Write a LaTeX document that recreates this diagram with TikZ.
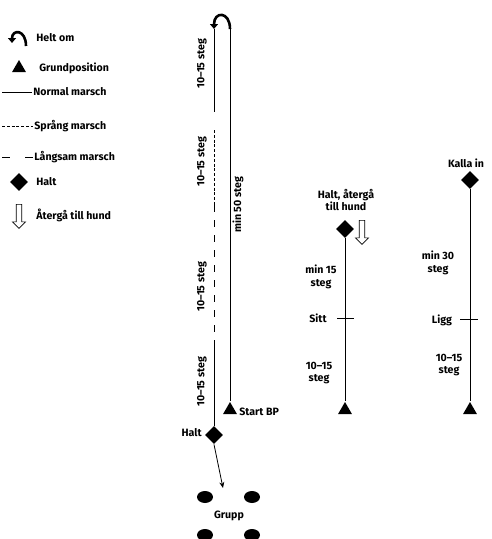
\documentclass[tikz,border=0pt]{standalone}
\usepackage{fontspec}
\setmainfont{Fira Sans}
\usetikzlibrary{shapes.geometric,shapes.arrows,arrows.meta}

\begin{document}
\begin{tikzpicture}[x=1pt,y=-1pt,line width=0.8pt,
        txt/.style={font=\bfseries\fontsize{10.6}{12.5}\selectfont,align=center,inner sep=1pt},
        halt node/.style={diamond,fill,minimum size=18pt,inner sep=0pt},
        bp node/.style={regular polygon,regular polygon sides=3,fill,minimum size=16pt,inner sep=0pt},
        dog node/.style={ellipse,fill,minimum width=16pt,minimum height=12pt,inner sep=0pt},
        back node/.style={single arrow,draw,fill=white,shape border rotate=270,line width=0.7pt,
            minimum height=24pt,minimum width=13pt,single arrow head extend=2.5pt,inner sep=1.5pt},
        jump/.style={dash pattern=on 3pt off 1.8pt},
        slow/.style={dash pattern=on 7pt off 8pt},
        turn/.style={line width=2.6pt,-{Triangle[length=5pt,width=8pt]}}]

    \useasboundingbox (0,0) rectangle (491,539);

    % legend
    \draw[turn] (26,46) .. controls (26,29) and (12,29) .. (12,43);
    \node[txt,anchor=west] (l1) at (35,38) {Helt om};
    \node[bp node] (lbp) at (19,68) {};
    \node[txt,anchor=west] (l2) at (38,68) {Grundposition};
    \coordinate (n1) at (2,92);
    \node[txt,anchor=west] (l3) at (32,92) {Normal marsch};
    \draw (n1) -- (l3.west);
    \coordinate (j1) at (2,126);
    \node[txt,anchor=west] (l4) at (33,126) {Språng marsch};
    \draw[jump] (j1) -- (l4.west);
    \coordinate (s1) at (2,157);
    \node[txt,anchor=west] (l5) at (33,157) {Långsam marsch};
    \draw[dash pattern=on 8pt off 15pt] (s1) -- (l5.west);
    \node[halt node] (lh) at (19,182) {};
    \node[txt,anchor=west] (l6) at (35,182) {Halt};
    \node[back node] (lb) at (19,215) {};
    \node[txt,anchor=west] (l7) at (35,215) {Återgå till hund};

    % first part
    \node[halt node] (halt) at (214,435) {};
    \node[bp node] (bp) at (230,410) {};
    \node[txt,anchor=east] (halt l) at (203,433) {Halt};
    \node[txt,anchor=west] (bp l) at (238,412) {Start BP};
    \coordinate (out top) at (230,29);
    \coordinate (in top) at (214,29);
    \coordinate (in a) at (214,112);
    \coordinate (in b) at (214,130);
    \coordinate (in c) at (214,205);
    \coordinate (in d) at (214,346);
    \draw[turn] (out top) .. controls (230,11) and (214,11) .. (in top);
    \draw (out top) -- (bp.north);
    \draw (in top) -- (in a);
    \draw[jump] (in b) -- (in c);
    \draw[slow] (in c) -- (in d);
    \draw (in d) -- (halt.north);
    \node[txt,rotate=90] (d1) at (202,64) {10–15 steg};
    \node[txt,rotate=90] (d2) at (202,162) {10–15 steg};
    \node[txt,rotate=90] (d3) at (202,287) {10–15 steg};
    \node[txt,rotate=90] (d4) at (202,382) {10–15 steg};
    \node[txt,rotate=90] (d5) at (238,205) {min 50 steg};

    % group
    \node[dog node] (g1) at (205,497) {};
    \node[dog node] (g2) at (252,497) {};
    \node[dog node] (g3) at (205,535) {};
    \node[dog node] (g4) at (252,535) {};
    \node[txt] (grupp) at (229,516) {Grupp};
    \coordinate (g top) at (223,488);
    \draw[-{Stealth[length=6pt,width=5pt]}] (halt.south) -- (g top);

    % second part
    \node[halt node] (h2) at (345,229) {};
    \node[bp node] (bp2) at (345,410) {};
    \node[txt] (h2 l) at (346,200) {Halt, återgå\\ till hund};
    \node[back node] (b2) at (362,231) {};
    \coordinate (t2a) at (337,318);
    \coordinate (t2b) at (354,318);
    \draw (h2.south) -- (bp2.north);
    \draw (t2a) -- (t2b);
    \node[txt] (m2) at (321,277) {min 15\\ steg};
    \node[txt] (sitt) at (318,318) {Sitt};
    \node[txt] (m2b) at (319,373) {10–15\\ steg};

    % third part
    \node[halt node] (h3) at (470,180) {};
    \node[bp node] (bp3) at (470,410) {};
    \node[txt] (kalla) at (466,163) {Kalla in};
    \coordinate (t3a) at (460,319);
    \coordinate (t3b) at (478,319);
    \draw (h3.south) -- (bp3.north);
    \draw (t3a) -- (t3b);
    \node[txt] (m3) at (438,263) {min 30\\ steg};
    \node[txt] (ligg) at (442,320) {Ligg};
    \node[txt] (m3b) at (449,365) {10–15\\ steg};
\end{tikzpicture}
\end{document}
